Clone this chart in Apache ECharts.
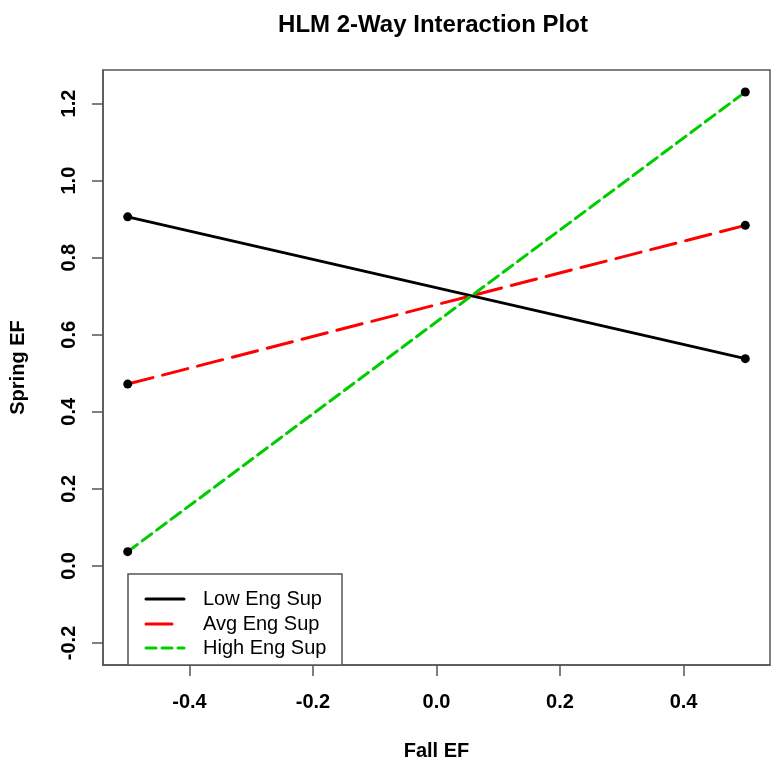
<!DOCTYPE html>
<html>
<head>
<meta charset="utf-8">
<script src="https://cdn.jsdelivr.net/npm/echarts@6/dist/echarts.min.js"></script>
<style>
  html, body { margin: 0; padding: 0; background: #ffffff; }
  #chart { width: 776px; height: 772px; }
</style>
</head>
<body>
<div id="chart"></div>
<script>
// ---- data ----
const fallEF = [-0.5, 0.5];
const lowEngSup = [0.906, 0.538];
const avgEngSup = [0.472, 0.884];
const highEngSup = [0.037, 1.230];
const seriesNames = ['Low Eng Sup', 'Avg Eng Sup', 'High Eng Sup'];
const xTicks = [-0.4, -0.2, 0.0, 0.2, 0.4];
const yTicks = [-0.2, 0.0, 0.2, 0.4, 0.6, 0.8, 1.0, 1.2];
const yLimLow = -0.2;

// R-style 4% axis padding
const xLo = Math.min(...fallEF), xHi = Math.max(...fallEF);
const xPad = (xHi - xLo) * 0.04;
const yHi = Math.max(...lowEngSup, ...avgEngSup, ...highEngSup);
const yPad = (yHi - yLimLow) * 0.04;

const toPairs = (ys) => fallEF.map((x, i) => [x, ys[i]]);

const FONT = '"Liberation Sans", Arial, Helvetica, sans-serif';
const chart = echarts.init(document.getElementById('chart'), null, { renderer: 'canvas' });

function mkSeries(name, ys, color, dash) {
  return {
    name: name,
    type: 'line',
    data: toPairs(ys),
    symbol: 'circle',
    symbolSize: 9,
    showSymbol: true,
    itemStyle: { color: '#000' },
    lineStyle: { color: color, width: 3, type: dash, cap: 'round' },
    emphasis: { disabled: true },
    z: 3
  };
}

const legendX0 = 128, legendY0 = 574, legendX1 = 342, legendY1 = 665;
const legendRows = [
  { name: seriesNames[0], color: '#000000', dash: 'solid', y: 599, x2: 184 },
  { name: seriesNames[1], color: '#ff0000', dash: [26, 10], y: 624, x2: 174 },
  { name: seriesNames[2], color: '#00cd00', dash: [10, 6], y: 648, x2: 184 }
];
const legendGraphics = [
  {
    type: 'rect',
    shape: { x: legendX0, y: legendY0, width: legendX1 - legendX0, height: legendY1 - legendY0 },
    style: { fill: '#fff', stroke: '#555', lineWidth: 1.5 },
    z: 10
  }
];
legendRows.forEach(r => {
  legendGraphics.push({
    type: 'line',
    shape: { x1: 146, y1: r.y, x2: r.x2, y2: r.y },
    style: { stroke: r.color, lineWidth: 3, lineDash: r.dash === 'solid' ? null : r.dash, lineCap: 'round' },
    z: 11
  });
  legendGraphics.push({
    type: 'text',
    x: 203, y: r.y,
    style: { text: r.name, font: '20px ' + FONT, fill: '#000', textVerticalAlign: 'middle', textAlign: 'left' },
    z: 11
  });
});

const option = {
  animation: false,
  backgroundColor: '#ffffff',
  title: {
    text: 'HLM 2-Way Interaction Plot',
    left: 428,
    textAlign: 'center',
    top: 8,
    textStyle: { fontFamily: FONT, fontWeight: 'bold', fontSize: 24, color: '#000' }
  },
  grid: {
    left: 103, right: 6, top: 70, bottom: 107,
    show: true, borderColor: '#555', borderWidth: 1.5, backgroundColor: 'transparent'
  },
  xAxis: {
    type: 'value',
    min: xLo - xPad,
    max: xHi + xPad,
    name: 'Fall EF',
    nameLocation: 'middle',
    nameGap: 76,
    nameTextStyle: { fontFamily: FONT, fontWeight: 'bold', fontSize: 20, color: '#000' },
    axisLine: { show: true, onZero: false, lineStyle: { color: '#555', width: 1.5 } },
    axisTick: { show: true, length: 11, customValues: xTicks, lineStyle: { color: '#555', width: 1.5 } },
    axisLabel: {
      customValues: xTicks,
      formatter: v => v.toFixed(1),
      margin: 27,
      fontFamily: FONT, fontWeight: 'bold', fontSize: 20, color: '#000'
    },
    splitLine: { show: false }
  },
  yAxis: {
    type: 'value',
    min: yLimLow - yPad,
    max: yHi + yPad,
    name: 'Spring EF',
    nameLocation: 'middle',
    nameGap: 75,
    nameRotate: 90,
    nameTextStyle: { fontFamily: FONT, fontWeight: 'bold', fontSize: 20, color: '#000' },
    axisLine: { show: true, onZero: false, lineStyle: { color: '#555', width: 1.5 } },
    axisTick: { show: true, length: 11, customValues: yTicks, lineStyle: { color: '#555', width: 1.5 } },
    axisLabel: {
      customValues: yTicks,
      formatter: v => v.toFixed(1),
      rotate: 90,
      margin: 24,
      fontFamily: FONT, fontWeight: 'bold', fontSize: 20, color: '#000'
    },
    splitLine: { show: false }
  },
  series: [
    mkSeries(seriesNames[0], lowEngSup, '#000000', 'solid'),
    mkSeries(seriesNames[1], avgEngSup, '#ff0000', [26, 10]),
    mkSeries(seriesNames[2], highEngSup, '#00cd00', [12, 6])
  ],
  graphic: legendGraphics
};
chart.setOption(option);
</script>
</body>
</html>
